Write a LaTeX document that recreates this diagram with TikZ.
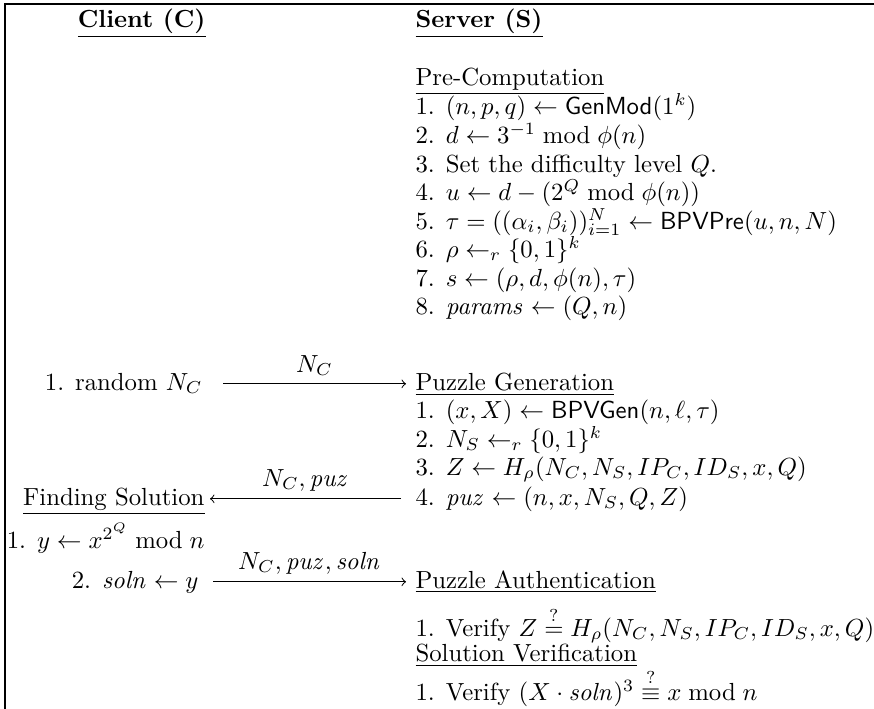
\documentclass[tikz,border=0pt]{standalone}
\usepackage{amsmath}
\usetikzlibrary{calc}
\begin{document}
\begin{tikzpicture}[x=0.404pt,y=-0.404pt,
  lc/.style={anchor=base east,inner sep=0pt},
  rc/.style={anchor=base west,inner sep=0pt},
  msg/.style={->,line width=0.4pt},
  lbl/.style={above=3pt,inner sep=0pt},
  framel/.style={line width=0.6pt}]
\useasboundingbox (0,0) rectangle (874,708);
\draw[framel] (5,715) -- (5,4) -- (885,4);

% headers
\node[lc] (client) at (206,27) {\underline{\textbf{Client (C)}}};
\node[rc] (server) at (415,27) {\underline{\textbf{Server (S)}}};

% pre-computation
\node[rc] (pre) at (415,85) {\underline{Pre-Computation}};
\node[rc] (p1) at (415,114) {1. $(n,p,q) \leftarrow \mathsf{GenMod}(1^k)$};
\node[rc] (p2) at (415,143) {2. $d \leftarrow 3^{-1} \bmod \phi(n)$};
\node[rc] (p3) at (415,172) {3. Set the difficulty level $Q$.};
\node[rc] (p4) at (415,200) {4. $u \leftarrow d-(2^Q \bmod \phi(n))$};
\node[rc] (p5) at (415,229) {5. $\tau=((\alpha_i,\beta_i))_{i=1}^{N} \leftarrow \mathsf{BPVPre}(u,n,N)$};
\node[rc] (p6) at (415,257) {6. $\rho \leftarrow_r \{0,1\}^k$};
\node[rc] (p7) at (415,286) {7. $s \leftarrow (\rho,d,\phi(n),\tau)$};
\node[rc] (p8) at (415,314) {8. $\mathit{params} \leftarrow (Q,n)$};

% puzzle generation
\node[lc] (rand) at (203,390) {1. random $N_C$};
\node[rc] (pg) at (415,390) {\underline{Puzzle Generation}};
\node[rc] (g1) at (415,418) {1. $(x,X) \leftarrow \mathsf{BPVGen}(n,\ell,\tau)$};
\node[rc] (g2) at (415,447) {2. $N_S \leftarrow_r \{0,1\}^k$};
\node[rc] (g3) at (415,475) {3. $Z \leftarrow H_\rho(N_C,N_S,IP_C,ID_S,x,Q)$};
\node[rc] (g4) at (415,505) {4. $\mathit{puz} \leftarrow (n,x,N_S,Q,Z)$};

% finding solution
\node[lc] (fs) at (205,505) {\underline{Finding Solution}};
\node[lc] (f1) at (205,548) {1. $y \leftarrow x^{2^Q} \bmod n$};
\node[lc] (sol) at (199,588) {2. $\mathit{soln} \leftarrow y$};

% verification
\node[rc] (pa) at (415,588) {\underline{Puzzle Authentication}};
\node[rc] (a1) at (415,636) {1. Verify $Z \stackrel{?}{=} H_\rho(N_C,N_S,IP_C,ID_S,x,Q)$};
\node[rc] (sv) at (415,661) {\underline{Solution Verification}};
\node[rc] (v1) at (415,700) {1. Verify $(X\cdot \mathit{soln})^3 \stackrel{?}{\equiv} x \bmod n$};

% messages
\coordinate (m1s) at ($(rand.base east)+(20,-6.2)$);
\coordinate (m1e) at ($(pg.base west)+(-9,-6.2)$);
\draw[msg] (m1s) -- (m1e) node[lbl,midway] {$N_C$};

\coordinate (m2s) at ($(g4.base west)+(-14,-6.2)$);
\coordinate (m2e) at ($(fs.base east)+(5,-6.2)$);
\draw[msg] (m2s) -- (m2e) node[lbl,midway] {$N_C,\mathit{puz}$};

\coordinate (m3s) at ($(sol.base east)+(14,-6.2)$);
\coordinate (m3e) at ($(pa.base west)+(-9,-6.2)$);
\draw[msg] (m3s) -- (m3e) node[lbl,midway] {$N_C,\mathit{puz},\mathit{soln}$};
\end{tikzpicture}
\end{document}
